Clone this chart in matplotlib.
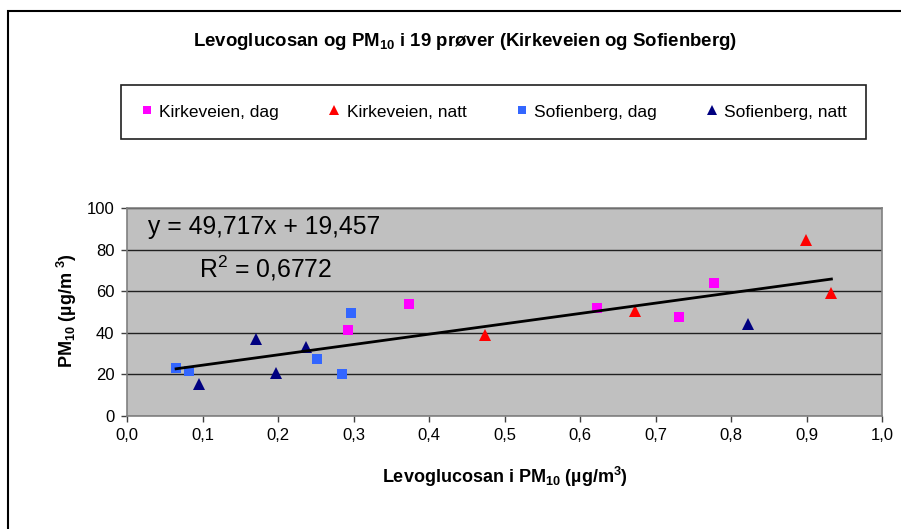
import matplotlib
matplotlib.use("Agg")
import matplotlib.pyplot as plt
from matplotlib.patches import Rectangle
from matplotlib.ticker import FuncFormatter, MultipleLocator

plt.rcParams['font.family'] = ['Liberation Sans', 'DejaVu Sans']
plt.rcParams['mathtext.fontset'] = 'custom'
plt.rcParams['mathtext.rm'] = 'Liberation Sans'
plt.rcParams['mathtext.it'] = 'Liberation Sans:italic'
plt.rcParams['mathtext.bf'] = 'Liberation Sans:bold'

# Data (levoglucosan µg/m3, PM10 µg/m3)
kirke_dag_x = [0.293, 0.373, 0.623, 0.731, 0.777]
kirke_dag_y = [41.3, 53.8, 51.8, 47.7, 63.8]
kirke_natt_x = [0.474, 0.673, 0.899, 0.933]
kirke_natt_y = [39.0, 50.3, 84.6, 58.9]
sofie_dag_x = [0.065, 0.082, 0.251, 0.285, 0.297]
sofie_dag_y = [22.9, 21.8, 27.6, 20.0, 49.7]
sofie_natt_x = [0.095, 0.171, 0.197, 0.237, 0.822]
sofie_natt_y = [15.2, 36.8, 20.8, 33.0, 44.4]

slope = 49.717
intercept = 19.457
r2 = 0.6772

W, H = 901, 529
fig = plt.figure(figsize=(W / 100, H / 100), dpi=100)
fig.patch.set_facecolor('white')

# outer chart border
fig.patches.append(Rectangle((8 / W, -0.05), 1.2, (H - 11) / H + 0.05,
                             transform=fig.transFigure, fill=False,
                             edgecolor='black', linewidth=1.5))

ax = fig.add_axes([127 / W, 1 - 416 / H, (882 - 127) / W, (416 - 208) / H])
ax.set_facecolor('#C0C0C0')
for s in ax.spines.values():
    s.set_color('#808080')
    s.set_linewidth(1.2)

ax.set_xlim(0, 1.0)
ax.set_ylim(0, 100)
ax.xaxis.set_major_locator(MultipleLocator(0.1))
ax.yaxis.set_major_locator(MultipleLocator(20))
ax.xaxis.set_major_formatter(FuncFormatter(lambda v, p: f"{v:.1f}".replace('.', ',')))
ax.yaxis.set_major_formatter(FuncFormatter(lambda v, p: f"{v:.0f}"))
ax.tick_params(direction='out', length=4, width=1, color='#404040',
               labelsize=12, labelcolor='black', pad=5)
ax.grid(axis='y', color='#202020', linewidth=1)
ax.set_axisbelow(True)

ms_sq = 7
ms_tri = 8.5
ax.plot(kirke_dag_x, kirke_dag_y, 's', color='#FF00FF', ms=ms_sq, mew=0,
        label='Kirkeveien, dag', zorder=3)
ax.plot(kirke_natt_x, kirke_natt_y, '^', color='#FF0000', ms=ms_tri, mew=0,
        label='Kirkeveien, natt', zorder=3)
ax.plot(sofie_dag_x, sofie_dag_y, 's', color='#3366FF', ms=ms_sq, mew=0,
        label='Sofienberg, dag', zorder=3)
ax.plot(sofie_natt_x, sofie_natt_y, '^', color='#000080', ms=ms_tri, mew=0,
        label='Sofienberg, natt', zorder=3)

all_x = kirke_dag_x + kirke_natt_x + sofie_dag_x + sofie_natt_x
x0, x1 = min(all_x), max(all_x)
ax.plot([x0, x1], [slope * x0 + intercept, slope * x1 + intercept],
        color='black', linewidth=2, zorder=4)

eq = f"y = {slope:.3f}x + {intercept:.3f}".replace('.', ',')
fig.text(148 / W, 1 - 227 / H, eq, fontsize=17.8, ha='left', va='center')
fig.text(199 / W, 1 - 268 / H, "R$^2$ = " + f"{r2:.4f}".replace('.', ','),
         fontsize=17.8, ha='left', va='center')

fig.text((193 + 737) / 2 / W, 1 - 42 / H,
         r"Levoglucosan og PM$_{\mathbf{10}}$ i 19 prøver (Kirkeveien og Sofienberg)",
         fontsize=13.4, fontweight='bold', ha='center', va='center')

fig.text((127 + 882) / 2 / W, 1 - 477 / H,
         r"Levoglucosan i PM$_{\mathbf{10}}$ (µg/m$^{\mathbf{3}}$)",
         fontsize=13, fontweight='bold', ha='center', va='center')
fig.text(67 / W, 1 - 311 / H,
         r"PM$_{\mathbf{10}}$ (µg/m $^{\mathbf{3}}$)",
         fontsize=13, fontweight='bold', ha='center', va='center', rotation=90)

leg = fig.legend(loc='center', ncol=4, mode='expand',
                 bbox_to_anchor=(121 / W, 1 - 140 / H, (866 - 121) / W, 56 / H),
                 borderaxespad=0,
                 fancybox=False, edgecolor='#202020', framealpha=1,
                 fontsize=12.5, handlelength=0.8, handletextpad=0.3,
                 borderpad=1.1, markerscale=0.8)
leg.get_frame().set_linewidth(1.2)

fig.savefig('out.png', dpi=100)
